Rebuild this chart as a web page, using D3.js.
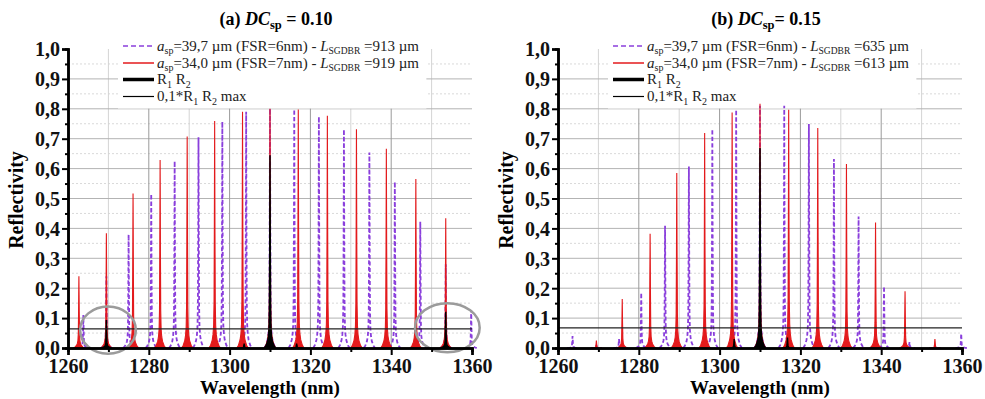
<!DOCTYPE html>
<html>
<head>
<meta charset="utf-8">
<script src="https://cdn.jsdelivr.net/npm/d3@7"></script>
<style>
  body { margin: 0; background: #fff; }
  svg text { font-family: "Liberation Serif", serif; }
</style>
</head>
<body>
<svg id="chart" width="985" height="399"></svg>
<script>
// ---- data ----
var wavelengthTicks = [1260, 1280, 1300, 1320, 1340, 1360];
var wavelengthMinor = [1270, 1290, 1310, 1330, 1350];
var reflTicks = [0, 0.1, 0.2, 0.3, 0.4, 0.5, 0.6, 0.7, 0.8, 0.9, 1.0];
var reflMinor = [0.05, 0.15, 0.25, 0.35, 0.45, 0.55, 0.65, 0.75, 0.85, 0.95];

// (a) DCsp = 0.10
var purpleCentersA = [1263.8, 1269.5, 1275.0, 1280.6, 1286.4, 1292.3, 1298.2, 1304.1, 1310.0, 1316.0, 1322.1, 1328.3, 1334.6, 1340.9, 1347.2, 1353.5, 1359.8];
var purpleHeightsA = [0.11, 0.24, 0.38, 0.515, 0.625, 0.705, 0.757, 0.79, 0.80, 0.798, 0.774, 0.731, 0.654, 0.556, 0.422, 0.28, 0.127];
var redCentersA = [1262.7, 1269.5, 1276.1, 1282.8, 1289.5, 1296.3, 1303.2, 1310.0, 1317.0, 1324.2, 1331.4, 1338.8, 1346.1, 1353.5];
var redHeightsA = [0.24, 0.384, 0.517, 0.629, 0.707, 0.759, 0.79, 0.80, 0.798, 0.777, 0.732, 0.666, 0.565, 0.434];
var blackCentersA = [1269.5, 1303.6, 1310.0, 1316.6, 1353.5];
var blackHeightsA = [0.094, 0.015, 0.645, 0.015, 0.121];
var thresholdA = 0.064;

// (b) DCsp = 0.15
var purpleCentersB = [1263.6, 1269.5, 1275.1, 1280.6, 1286.5, 1292.4, 1298.2, 1304.1, 1310.0, 1316.0, 1322.1, 1328.3, 1334.4, 1340.7, 1347.0, 1353.3, 1359.8];
var purpleHeightsB = [0.04, 0.01, 0.03, 0.185, 0.409, 0.607, 0.732, 0.797, 0.81, 0.81, 0.749, 0.632, 0.44, 0.206, 0.02, 0.01, 0.048];
var redCentersB = [1269.5, 1275.9, 1282.8, 1289.4, 1296.3, 1303.1, 1310.0, 1317.1, 1324.3, 1331.4, 1338.6, 1345.9, 1353.3];
var redHeightsB = [0.025, 0.164, 0.382, 0.585, 0.719, 0.788, 0.817, 0.797, 0.736, 0.615, 0.42, 0.19, 0.03];
var blackCentersB = [1303.6, 1310.0, 1316.8];
var blackHeightsB = [0.03, 0.669, 0.035];
var thresholdB = 0.067;

// shape of one reflection peak: [offset in nm, fraction of peak height]
var peakShape = [[-1.4, 0], [-1.0, 0.012], [-0.6, 0.035], [-0.4, 0.06], [-0.25, 0.1], [-0.15, 0.2], [-0.08, 0.5], [0, 1],
                 [0.08, 0.5], [0.15, 0.2], [0.25, 0.1], [0.4, 0.06], [0.6, 0.035], [1.0, 0.012], [1.4, 0]];

var RED = '#e31a1c', PURPLE = '#8a3fdc';

var panels = [
  { left: 68, label: '(a) ', eq: ' = 0.10', lenP: '913', lenR: '919',
    purple: d3.zip(purpleCentersA, purpleHeightsA), red: d3.zip(redCentersA, redHeightsA),
    black: d3.zip(blackCentersA, blackHeightsA), thr: thresholdA,
    rings: [[1269.9, 0.06, 6.9, 0.079], [1353.9, 0.068, 8, 0.082]] },
  { left: 558, label: '(b) ', eq: '= 0.15', lenP: '635', lenR: '613',
    purple: d3.zip(purpleCentersB, purpleHeightsB), red: d3.zip(redCentersB, redHeightsB),
    black: d3.zip(blackCentersB, blackHeightsB), thr: thresholdB, rings: [] }
];

var svg = d3.select('#chart');
var plotTop = 49, plotBottom = 348, plotW = 404;

function rich(sel, parts) {
  var shift = 0;
  parts.forEach(function (p) {
    var t = sel.append('tspan').text(p.t);
    var want = p.sub ? 3.5 : 0;
    if (want !== shift) { t.attr('dy', want - shift); shift = want; }
    if (p.italic) t.attr('font-style', 'italic');
    if (p.sub) t.attr('font-size', p.size || 10);
  });
}

panels.forEach(function (P) {
  var g = svg.append('g');
  var x = d3.scaleLinear().domain([1260, 1360]).range([P.left, P.left + plotW]);
  var y = d3.scaleLinear().domain([0, 1]).range([plotBottom, plotTop]);

  // grid
  g.selectAll('.hmin').data(reflMinor).enter().append('line')
    .attr('x1', x(1260)).attr('x2', x(1360)).attr('y1', d => y(d)).attr('y2', d => y(d))
    .attr('stroke', '#d9d9d9').attr('stroke-dasharray', '2,2');
  g.selectAll('.vmin').data(wavelengthMinor).enter().append('line')
    .attr('x1', d => x(d)).attr('x2', d => x(d)).attr('y1', y(0)).attr('y2', y(1))
    .attr('stroke', '#d4d4d4');
  g.selectAll('.hmaj').data(reflTicks.slice(1, -1)).enter().append('line')
    .attr('x1', x(1260)).attr('x2', x(1360)).attr('y1', d => y(d)).attr('y2', d => y(d))
    .attr('stroke', '#b3b3b3');
  g.selectAll('.vmaj').data(wavelengthTicks.slice(1, -1)).enter().append('line')
    .attr('x1', d => x(d)).attr('x2', d => x(d)).attr('y1', y(0)).attr('y2', y(1))
    .attr('stroke', '#9a9a9a');

  // legend background (white box over the grid)
  var lg = g.append('g');
  var box = lg.append('rect').attr('fill', '#fff');

  // title
  var title = g.append('text').attr('x', P.left + 208).attr('y', 25)
    .attr('text-anchor', 'middle').attr('font-size', 18).attr('font-weight', 'bold');
  rich(title, [{ t: P.label }, { t: 'DC', italic: true }, { t: 'sp', sub: true, size: 12.5 }, { t: P.eq }]);

  // peaks
  var area = d3.area().x(p => x(p[0])).y0(y(0)).y1(p => y(p[1]));
  var line = d3.line().x(p => x(p[0])).y(p => y(p[1]));
  var shape = d => peakShape.map(s => [d[0] + s[0], d[1] * s[1]]);

  g.selectAll('.pp').data(P.purple).enter().append('path')
    .attr('d', d => line(shape(d))).attr('fill', 'none')
    .attr('stroke', PURPLE).attr('stroke-width', 1.8).attr('stroke-dasharray', '4,2.5');
  g.selectAll('.rp').data(P.red).enter().append('path')
    .attr('d', d => area(shape(d))).attr('fill', RED)
    .attr('stroke', RED).attr('stroke-width', 1.1);
  g.selectAll('.bp').data(P.black).enter().append('path')
    .attr('d', d => area(shape(d))).attr('fill', '#000')
    .attr('stroke', '#000').attr('stroke-width', 1.4);

  g.append('line').attr('x1', x(1260)).attr('x2', x(1360))
    .attr('y1', y(P.thr)).attr('y2', y(P.thr)).attr('stroke', '#222').attr('stroke-width', 1.2);

  // annotation rings
  g.selectAll('.ring').data(P.rings).enter().append('ellipse')
    .attr('cx', d => x(d[0])).attr('cy', d => y(d[1]))
    .attr('rx', d => x(d[0] + d[2]) - x(d[0])).attr('ry', d => y(0) - y(d[3]))
    .attr('fill', 'none').attr('stroke', '#9b9b9b').attr('stroke-width', 2.5);

  // axes
  var yAxis = g.append('g').attr('transform', `translate(${x(1260)},0)`)
    .call(d3.axisLeft(y).tickValues(reflTicks).tickSize(6).tickPadding(2)
      .tickFormat(d => d.toFixed(1).replace('.', ',')));
  g.append('g').attr('transform', `translate(${x(1260)},0)`)
    .call(d3.axisLeft(y).tickValues(reflMinor).tickSize(3).tickFormat(''));
  var xAxis = g.append('g').attr('transform', `translate(0,${y(0)})`)
    .call(d3.axisBottom(x).tickValues(wavelengthTicks).tickSize(7).tickPadding(2).tickFormat(d3.format('d')));
  g.append('g').attr('transform', `translate(0,${y(0)})`)
    .call(d3.axisBottom(x).tickValues(wavelengthMinor).tickSize(4).tickFormat(''));
  g.selectAll('.domain').attr('stroke', '#000').attr('stroke-width', 2.5);
  g.selectAll('.tick line').attr('stroke', '#000').attr('stroke-width', 2);
  g.selectAll('.tick text').attr('font-family', '"Liberation Serif", serif')
    .attr('font-weight', 'bold').attr('font-size', 20).attr('fill', '#111');
  yAxis.selectAll('.tick text').attr('dy', '0.34em');
  xAxis.selectAll('.tick text').attr('dy', '0.78em');

  g.append('text').attr('x', x(1310)).attr('y', 394).attr('text-anchor', 'middle')
    .attr('font-size', 19).attr('font-weight', 'bold').text('Wavelength (nm)');
  g.append('text').attr('transform', `translate(${P.left - 45},${200}) rotate(-90)`)
    .attr('text-anchor', 'middle').attr('font-size', 20).attr('font-weight', 'bold').text('Reflectivity');

  // legend entries
  var lx = P.left + 55, tx = P.left + 89;
  var rows = [
    { y: 46, stroke: PURPLE, w: 1.5, dash: '5,3',
      parts: [{ t: 'a', italic: true }, { t: 'sp', sub: true }, { t: '=39,7 µm (FSR=6nm) - ' }, { t: 'L', italic: true },
              { t: 'SGDBR', sub: true, size: 9.5 }, { t: ' =' + P.lenP + ' µm' }] },
    { y: 63, stroke: RED, w: 1.5,
      parts: [{ t: 'a', italic: true }, { t: 'sp', sub: true }, { t: '=34,0 µm (FSR=7nm) - ' }, { t: 'L', italic: true },
              { t: 'SGDBR', sub: true, size: 9.5 }, { t: ' =' + P.lenR + ' µm' }] },
    { y: 79.5, stroke: '#000', w: 3.5,
      parts: [{ t: 'R' }, { t: '1', sub: true }, { t: ' R' }, { t: '2', sub: true }] },
    { y: 96.5, stroke: '#000', w: 1.2,
      parts: [{ t: '0,1*R' }, { t: '1', sub: true }, { t: ' R' }, { t: '2', sub: true }, { t: ' max' }] }
  ];
  rows.forEach(function (r) {
    lg.append('line').attr('x1', lx).attr('x2', tx - 3).attr('y1', r.y).attr('y2', r.y)
      .attr('stroke', r.stroke).attr('stroke-width', r.w).attr('stroke-dasharray', r.dash || null);
    var t = lg.append('text').attr('x', tx).attr('y', r.y + 4.5).attr('font-size', 15).attr('fill', '#222');
    rich(t, r.parts);
  });
  var bb = lg.node().getBBox();
  box.attr('x', bb.x - 5).attr('y', bb.y - 2).attr('width', bb.width + 12).attr('height', bb.height + 4);
});
</script>
</body>
</html>
